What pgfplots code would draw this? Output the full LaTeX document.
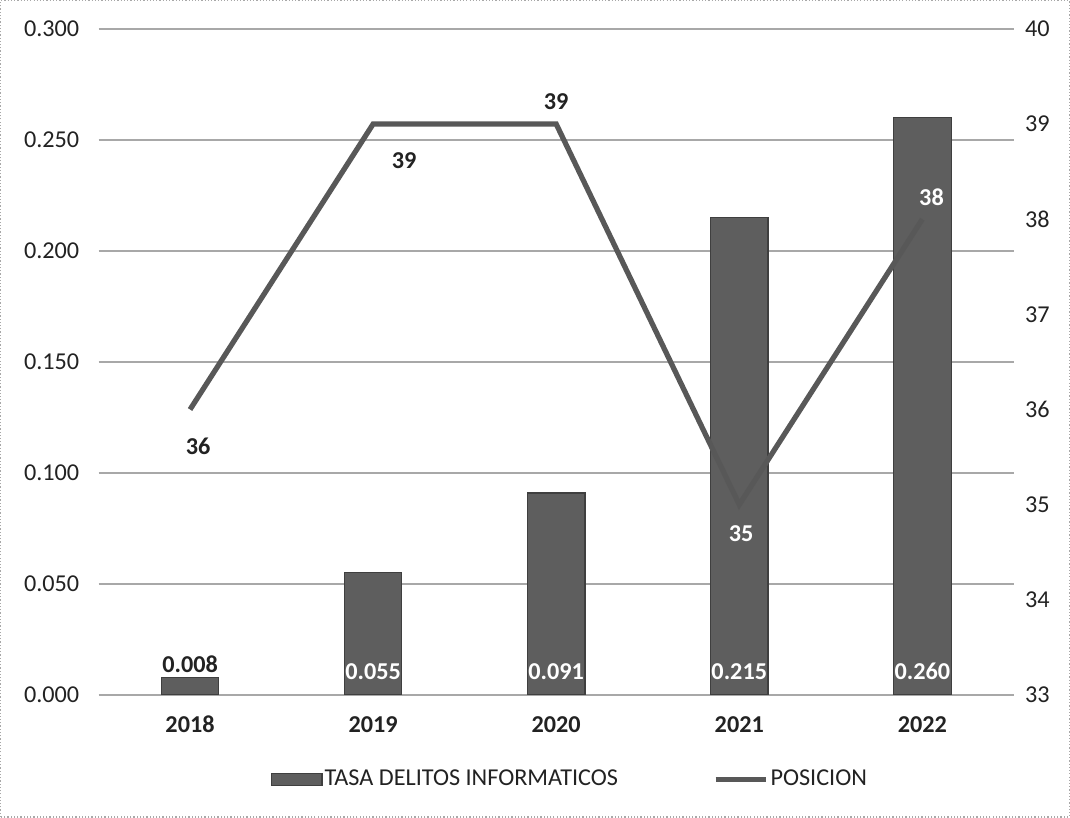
\documentclass[border=0pt]{standalone}
\usepackage{pgfplots}
\pgfplotsset{compat=1.18}
\usepackage{fontspec}
\setmainfont{Carlito}
\definecolor{barfill}{HTML}{5E5E5E}
\definecolor{bardraw}{HTML}{3F3F3F}
\definecolor{linecol}{HTML}{585858}
\definecolor{gridcol}{HTML}{A8A8A8}
\definecolor{txt}{HTML}{222222}
\begin{document}
\begin{tikzpicture}[font=\fontsize{12}{14.4}\selectfont]
% outer frame of the chart area
\draw[gridcol, densely dotted, line width=0.6pt] (-48.5pt,-60.5pt) rectangle (481pt,344pt);
\begin{axis}[
  at={(0,0)}, anchor=south west,
  scale only axis, width=453.5pt, height=330pt,
  xmin=-0.5, xmax=4.5,
  ymin=0, ymax=0.3,
  xtick={0,1,2,3,4},
  xticklabels={2018,2019,2020,2021,2022},
  xticklabel style={font=\fontsize{12}{14.4}\selectfont\bfseries, text=txt, yshift=-7pt},
  ytick={0,0.05,0.1,0.15,0.2,0.25,0.3},
  yticklabel style={text=txt, xshift=-6pt,
    /pgf/number format/fixed, /pgf/number format/fixed zerofill,
    /pgf/number format/precision=3, /pgf/number format/assume math mode=true},
  major tick length=0pt,
  axis line style={draw=none},
  ymajorgrids=true,
  major grid style={gridcol, line width=0.7pt},
  legend style={at={(0.515,-0.127)}, anchor=center, draw=none, fill=none,
    legend columns=2,
    /tikz/every odd column/.append style={column sep=0pt},
    /tikz/every even column/.append style={column sep=46pt},
    nodes={inner xsep=1pt},
    font=\fontsize{12}{14.4}\selectfont, text=txt},
  legend cell align=left,
  legend image code/.code={\draw[#1] (0pt,-3pt) rectangle (25pt,3pt);},
]
\addplot[ybar, bar width=28.5pt, fill=barfill, draw=bardraw, line width=0.6pt]
  coordinates {(0,0.008)(1,0.055)(2,0.091)(3,0.215)(4,0.260)};
\addlegendentry{TASA DELITOS INFORMATICOS}
\addlegendimage{legend image code/.code={\draw[linecol, line width=2.5pt] (0pt,0pt) -- (25pt,0pt);}}
\addlegendentry{POSICION}
% value labels of the bars
\addplot[draw=none, forget plot, nodes near coords, point meta=explicit symbolic,
  nodes near coords style={anchor=south, font=\fontsize{12}{14.4}\selectfont\bfseries, text=txt, inner sep=2pt}]
  coordinates {(0,0.008)[0.008]};
\addplot[draw=none, forget plot, nodes near coords, point meta=explicit symbolic,
  nodes near coords style={anchor=center, font=\fontsize{12}{14.4}\selectfont\bfseries, text=white, inner sep=0pt}]
  coordinates {(1,0.0105)[0.055] (2,0.0105)[0.091] (3,0.0105)[0.215] (4,0.0105)[0.260]};
\end{axis}
\begin{axis}[
  at={(0,0)}, anchor=south west,
  scale only axis, width=453.5pt, height=330pt,
  xmin=-0.5, xmax=4.5,
  ymin=33, ymax=40,
  hide x axis,
  axis y line*=right,
  axis line style={draw=none},
  ytick={33,34,35,36,37,38,39,40},
  yticklabel style={text=txt, xshift=2pt, /pgf/number format/assume math mode=true},
  major tick length=0pt,
]
\addplot[linecol, line width=2.6pt, line join=miter, mark=none]
  coordinates {(0,36)(1,39)(2,39)(3,35)(4,38)};
% position labels
\addplot[draw=none, nodes near coords, point meta=explicit symbolic,
  nodes near coords style={anchor=center, font=\fontsize{12}{14.4}\selectfont\bfseries, text=txt}]
  coordinates {(0.044,35.61)[36] (1.17,38.61)[39] (2.0,39.24)[39]};
\addplot[draw=none, nodes near coords, point meta=explicit symbolic,
  nodes near coords style={anchor=center, font=\fontsize{12}{14.4}\selectfont\bfseries, text=white}]
  coordinates {(3.01,34.70)[35] (4.05,38.23)[38]};
\end{axis}
\end{tikzpicture}
\end{document}
